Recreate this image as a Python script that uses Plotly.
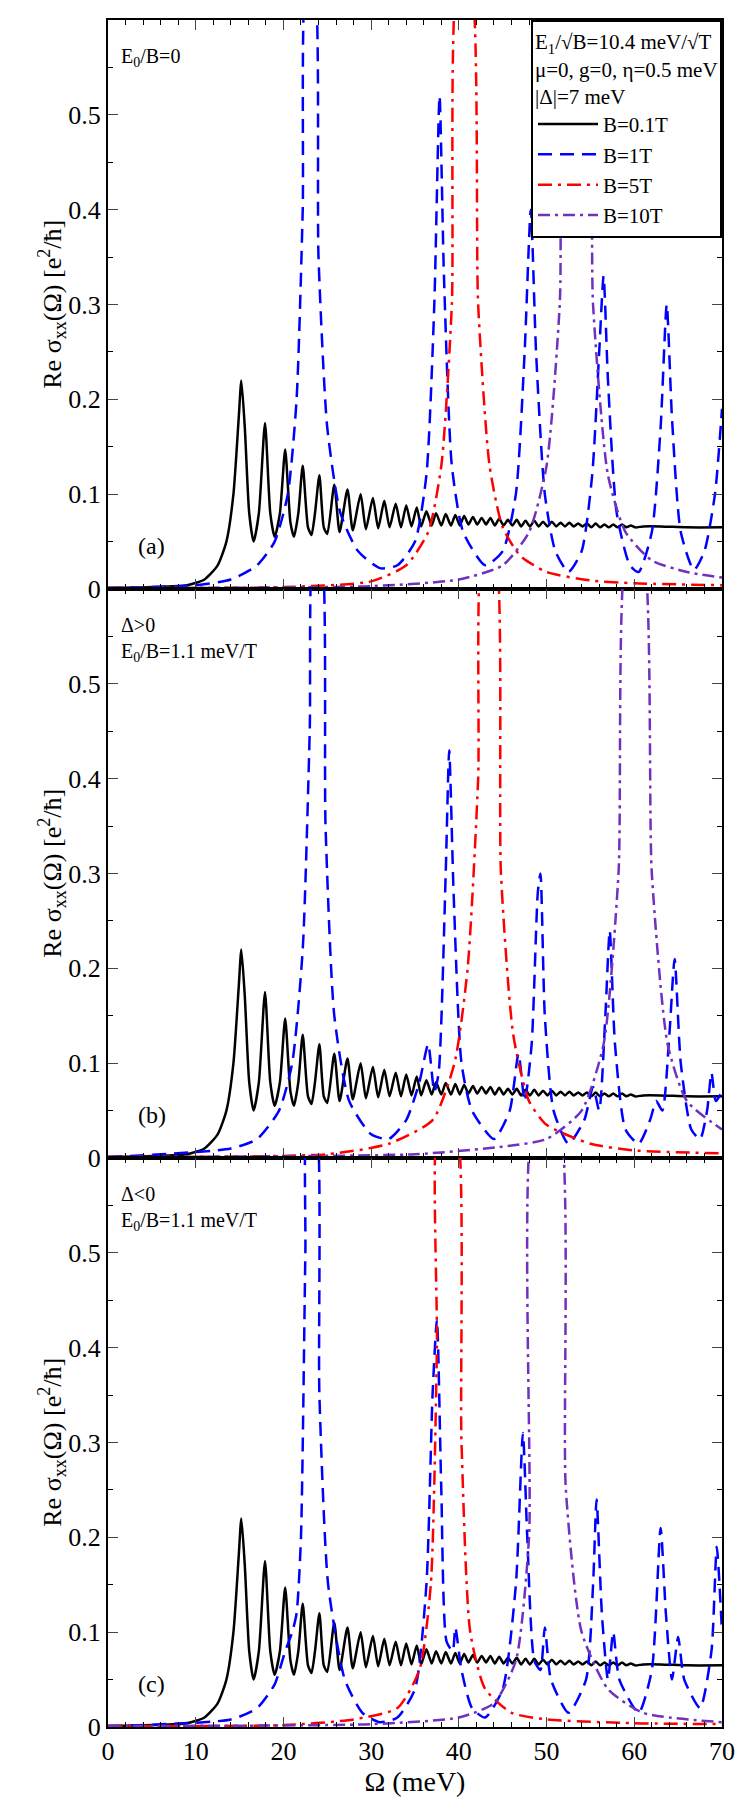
import plotly.graph_objects as go
from plotly.subplots import make_subplots

# B = 0.1T (same in all panels)
black_x = [0, 5, 9, 11, 12.5, 13.5, 14.3, 14.9, 15.2, 15.6, 16.1, 16.6, 17.2, 17.9, 18.5, 19, 19.6, 20.2,
           20.8, 21.2, 21.7, 22.2, 22.8, 23.2, 23.6, 24.1, 24.6, 25, 25.8, 26.4, 27.3, 27.9, 28.8, 29.4,
           30.2, 30.8, 31.5, 32.1, 32.8, 33.4, 34.0, 34.6, 35.2, 35.7, 36.3, 36.9, 37.4, 38, 38.5, 39.1,
           39.6, 40.1, 40.6, 41.1, 41.6, 42.1, 42.6, 43.1, 43.6, 44.1, 44.6, 45.1, 45.6, 46.1, 46.6, 47.1,
           47.6, 48.1, 48.6, 49.1, 49.6, 50.1, 50.6, 51.1, 51.6, 52.1, 52.6, 53.1, 53.6, 54.1, 54.6, 55.1,
           55.6, 56.1, 56.6, 57.1, 57.6, 58.1, 58.6, 59.1, 59.6, 60.1, 61, 63, 66, 70]
black_y = [0.001, 0.002, 0.004, 0.01, 0.025, 0.05, 0.1, 0.18, 0.22, 0.17, 0.08, 0.05, 0.08, 0.175, 0.08, 0.055, 0.08, 0.147,
           0.07, 0.055, 0.08, 0.13, 0.065, 0.057, 0.08, 0.12, 0.065, 0.058, 0.11, 0.06, 0.105, 0.062, 0.1, 0.063,
           0.096, 0.064, 0.093, 0.065, 0.09, 0.065, 0.088, 0.066, 0.086, 0.066, 0.082, 0.067, 0.08, 0.067, 0.079, 0.067,
           0.078, 0.067, 0.077, 0.068, 0.076, 0.068, 0.075, 0.068, 0.075, 0.067, 0.074, 0.067, 0.073, 0.067, 0.073, 0.066,
           0.072, 0.066, 0.072, 0.066, 0.071, 0.066, 0.071, 0.066, 0.07, 0.066, 0.07, 0.066, 0.069, 0.066, 0.069, 0.065,
           0.069, 0.065, 0.068, 0.065, 0.068, 0.065, 0.068, 0.065, 0.067, 0.065, 0.066, 0.066, 0.065, 0.065]

# panel (a)
blue_a_x = [0, 10, 14, 17, 19, 20.5, 21.5, 22.2, 22.7, 23.4, 24, 25, 26.5, 28.5, 31, 33, 35, 36.3, 37.2, 37.8, 38.3,
            39.2, 40.5, 43, 45, 46.5, 47.5, 48.2, 48.8, 49.8, 51, 52.5, 54, 55.2, 56, 56.5, 57, 58, 59.5, 60.5, 62,
            63, 63.7, 64.3, 65.3, 66.8, 68, 69.2, 70]
blue_a_y = [0.001, 0.004, 0.01, 0.025, 0.05, 0.1, 0.2, 0.4, 0.65, 0.65, 0.35, 0.17, 0.08, 0.04, 0.022, 0.025, 0.05, 0.12,
            0.3, 0.52, 0.33, 0.13, 0.06, 0.025, 0.04, 0.1, 0.25, 0.4, 0.25, 0.1, 0.04, 0.018, 0.04, 0.12, 0.25, 0.33,
            0.22, 0.08, 0.025, 0.018, 0.06, 0.17, 0.3, 0.18, 0.06, 0.02, 0.04, 0.1, 0.19]
red_a_x = [0, 20, 30, 34, 36.5, 38, 39.2, 40, 41.2, 42.2, 43.5, 45, 47, 50, 55, 60, 70]
red_a_y = [0.001, 0.002, 0.008, 0.025, 0.06, 0.13, 0.3, 0.65, 0.65, 0.3, 0.13, 0.065, 0.035, 0.018, 0.009, 0.006, 0.004]
purple_a_x = [0, 30, 40, 45, 48, 50, 51.5, 52.5, 54.3, 55.3, 57, 59, 62, 66, 70]
purple_a_y = [0.001, 0.003, 0.01, 0.025, 0.06, 0.13, 0.3, 0.65, 0.65, 0.3, 0.12, 0.06, 0.03, 0.018, 0.012]

# panel (b)
blue_b_x = [0, 14, 17, 19.5, 21, 22.2, 23, 23.5, 24.2, 24.8, 25.8, 27.5, 30, 32, 34, 35.5, 36.5, 37.2, 37.7, 38.5,
            38.9, 39.4, 40.3, 41.5, 44, 45.8, 46.8, 47.5, 48.3, 49, 49.3, 49.8, 50.8, 52.5, 54.3, 55.3, 56, 56.7,
            57.2, 57.8, 59, 60.5, 61.8, 62.5, 63.2, 64, 64.6, 65.3, 66.5, 67.5, 68.3, 68.8, 69.3, 70]
blue_b_y = [0.001, 0.01, 0.02, 0.05, 0.1, 0.22, 0.45, 0.65, 0.65, 0.35, 0.15, 0.06, 0.025, 0.02, 0.04, 0.08, 0.12, 0.07,
            0.09, 0.3, 0.43, 0.28, 0.1, 0.05, 0.02, 0.05, 0.11, 0.06, 0.12, 0.28, 0.3, 0.15, 0.05, 0.015, 0.04, 0.075,
            0.05, 0.15, 0.24, 0.12, 0.03, 0.015, 0.04, 0.06, 0.05, 0.13, 0.21, 0.1, 0.03, 0.02, 0.05, 0.09, 0.06, 0.07]
red_b_x = [0, 25, 32, 37, 39.5, 41, 42.2, 42.8, 44, 44.8, 46.2, 48, 50, 55, 60, 70]
red_b_y = [0.001, 0.004, 0.015, 0.04, 0.1, 0.2, 0.4, 0.65, 0.65, 0.3, 0.13, 0.06, 0.035, 0.015, 0.008, 0.005]
purple_b_x = [0, 35, 45, 50, 54, 56.5, 58.2, 59.3, 60.8, 62, 63.8, 66, 70]
purple_b_y = [0.001, 0.004, 0.012, 0.02, 0.05, 0.12, 0.3, 0.65, 0.65, 0.3, 0.12, 0.06, 0.03]

# panel (c)
blue_c_x = [0, 14, 17, 19, 20.2, 21, 21.5, 22, 22.5, 22.8, 23.6, 24.1, 25.1, 27, 29, 31, 33, 35, 36.3, 37, 37.5, 38,
            38.6, 39.3, 39.6, 40.3, 41.5, 43, 45, 46.5, 47.3, 47.8, 48.6, 49.3, 49.8, 50.5, 52.5, 54.5, 55.3, 55.7,
            56.3, 57, 57.6, 58.3, 60.5, 62, 63, 63.6, 64.3, 65, 65.7, 67.5, 68.8, 69.4, 70]
blue_c_y = [0.001, 0.008, 0.02, 0.045, 0.08, 0.1, 0.12, 0.2, 0.5, 0.65, 0.65, 0.35, 0.15, 0.05, 0.015, 0.005, 0.01, 0.04,
            0.15, 0.35, 0.43, 0.25, 0.09, 0.08, 0.105, 0.06, 0.02, 0.01, 0.04, 0.15, 0.31, 0.2, 0.07, 0.06, 0.105, 0.05,
            0.015, 0.05, 0.15, 0.24, 0.12, 0.05, 0.1, 0.05, 0.015, 0.06, 0.21, 0.12, 0.05, 0.095, 0.05, 0.02, 0.08,
            0.19, 0.1]
red_c_x = [0, 20, 28, 33, 35.5, 36.8, 37.5, 37.8, 39.5, 40.3, 41.3, 43, 46, 50, 60, 70]
red_c_y = [0.001, 0.002, 0.008, 0.02, 0.06, 0.15, 0.4, 0.65, 0.65, 0.3, 0.1, 0.04, 0.015, 0.008, 0.004, 0.003]
purple_c_x = [0, 30, 40, 44, 46.5, 48, 48.7, 51.2, 52.2, 54, 57, 61, 70]
purple_c_y = [0.001, 0.003, 0.01, 0.025, 0.07, 0.2, 0.65, 0.65, 0.25, 0.1, 0.04, 0.015, 0.005]

panels = [
    (black_x, black_y, blue_a_x, blue_a_y, red_a_x, red_a_y, purple_a_x, purple_a_y),
    (black_x, black_y, blue_b_x, blue_b_y, red_b_x, red_b_y, purple_b_x, purple_b_y),
    (black_x, black_y, blue_c_x, blue_c_y, red_c_x, red_c_y, purple_c_x, purple_c_y),
]
names = ["B=0.1T", "B=1T", "B=5T", "B=10T"]
colors = ["black", "#0000ff", "#ff0000", "#7030c0"]
dashes = ["solid", "14px,8px", "14px,6px,3px,6px", "12px,5px,3px,5px"]

fig = make_subplots(rows=3, cols=1, shared_xaxes=True, vertical_spacing=0)
font = "Liberation Serif, Times New Roman, DejaVu Serif, serif"

for r, p in enumerate(panels, start=1):
    for k in range(4):
        fig.add_trace(go.Scatter(
            x=p[2 * k], y=p[2 * k + 1], mode="lines", name=names[k],
            line=dict(color=colors[k], width=2.5, dash=dashes[k], shape="spline", smoothing=0.6),
            showlegend=(r == 1),
        ), row=r, col=1)
    ticks = [0, 0.1, 0.2, 0.3, 0.4, 0.5, 0.6] if r == 1 else [0, 0.1, 0.2, 0.3, 0.4, 0.5]
    fig.update_yaxes(range=[0, 0.6001], tickvals=ticks, ticktext=[("%g" % t) for t in ticks],
                     ticks="inside", ticklen=10, mirror="allticks", showline=True, linecolor="black",
                     linewidth=2, showgrid=False, zeroline=False,
                     minor=dict(ticks="inside", dtick=0.05, ticklen=5, tickcolor="black"),
                     tickfont=dict(size=26, family=font, color="black"), row=r, col=1)
    fig.update_xaxes(range=[0, 70], dtick=10, ticks="inside", ticklen=10, mirror="allticks",
                     showline=True, linecolor="black", linewidth=2, showgrid=False, zeroline=False,
                     minor=dict(ticks="inside", dtick=2, ticklen=5, tickcolor="black"),
                     tickfont=dict(size=26, family=font, color="black"),
                     showticklabels=(r == 3), row=r, col=1)

fig.update_xaxes(title=dict(text="Ω (meV)", font=dict(size=28, family=font, color="black"), standoff=2),
                 row=3, col=1)

ylab = "Re σ<sub>xx</sub>(Ω) [e<sup>2</sup>/ħ]"
labels = ["(a)", "(b)", "(c)"]
notes = ["E<sub>0</sub>/B=0", "Δ>0<br>E<sub>0</sub>/B=1.1 meV/T", "Δ<0<br>E<sub>0</sub>/B=1.1 meV/T"]
for i in range(3):
    yr = "y" if i == 0 else "y%d" % (i + 1)
    xr = "x" if i == 0 else "x%d" % (i + 1)
    fig.add_annotation(text=ylab, textangle=-90, xref="paper", x=-0.125, yref=yr + " domain", y=0.5,
                       showarrow=False, font=dict(size=26, family=font, color="black"))
    fig.add_annotation(text=labels[i], xref=xr, x=5, yref=yr, y=0.045, showarrow=False,
                       font=dict(size=24, family=font, color="black"))
    fig.add_annotation(text=notes[i], xref=xr, x=1.3, xanchor="left", yref=yr + " domain", y=0.96,
                       yanchor="top", align="left", showarrow=False,
                       font=dict(size=20, family=font, color="black"))

fig.update_layout(
    width=747, height=1799, plot_bgcolor="white", paper_bgcolor="white",
    margin=dict(l=100, r=33, t=10, b=80),
    legend=dict(x=1, y=1, xanchor="right", yanchor="top", bgcolor="white", bordercolor="black",
                borderwidth=2, font=dict(size=21, family=font, color="black"), itemwidth=60,
                title=dict(text="E<sub>1</sub>/√B=10.4 meV/√T<br>μ=0, g=0, η=0.5 meV<br>|Δ|=7 meV",
                           font=dict(size=21, family=font, color="black"))),
)

fig.write_html("out.html")
